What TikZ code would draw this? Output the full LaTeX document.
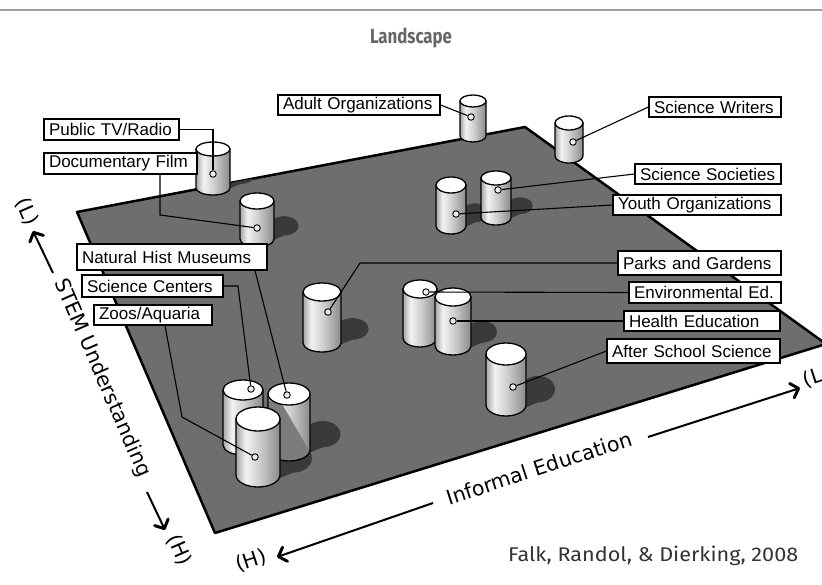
\documentclass[tikz,border=0pt]{standalone}
\usepackage{graphicx}
\usepackage{fontspec}
\setmainfont{Liberation Sans}
\newfontfamily\titlefont{Fira Sans}
\newfontfamily\axisfont{DejaVu Sans}
\usetikzlibrary{arrows.meta}
\definecolor{planec}{HTML}{6E6E6E}
\definecolor{shadowc}{HTML}{3A3A3A}
\definecolor{cylL}{HTML}{A6A6A6}
\definecolor{cylH}{HTML}{F2F2F2}
\definecolor{cylM}{HTML}{CDCDCD}
\definecolor{cylR}{HTML}{8A8A8A}
\definecolor{titlec}{HTML}{666666}
\definecolor{creditc}{HTML}{333333}
\definecolor{cyldark}{HTML}{7C7C7C}
\pgfdeclarehorizontalshading{cylshade}{100bp}{color(0bp)=(cylL); color(25bp)=(cylL); color(36bp)=(cylH); color(52bp)=(cylM); color(75bp)=(cylR); color(100bp)=(cylR)}
\tikzset{
  lab/.style={draw=black, fill=white, line width=1.2pt, inner xsep=5pt, inner ysep=0pt, align=left, font=\fontsize{17}{19}\selectfont},
  conn/.style={draw=black, line width=1.1pt},
  pindot/.style={circle, draw=black, fill=white!85!gray, line width=0.9pt, minimum size=6.5pt, inner sep=0pt},
  axisline/.style={draw=black, line width=2pt, -{Straight Barb[length=7pt,width=15pt,line width=3pt,round]}},
  axislab/.style={font=\axisfont\fontsize{20.5}{22}\selectfont, inner sep=0pt, text=black},
  cylside/.style={shading=cylshade, draw=black, line width=1.3pt},
  cyltop/.style={fill=white, draw=black, line width=1.3pt}
}
\newcommand\cyl[5]{%
  \shadedraw[cylside] (#1-#4,#2) -- (#1-#4,#3) arc[start angle=180,end angle=0,x radius=#4,y radius=#5] -- (#1+#4,#2) -- cycle;
  \filldraw[cyltop] (#1,#2) ellipse [x radius=#4, y radius=#5];
}
\newcommand\cylshadow[4]{%
  \pgfmathsetmacro\sdx{#1+1.6*#3}\pgfmathsetmacro\sdy{#2-0.9*#4-6}%
  \pgfmathsetmacro\srx{0.85*#3}\pgfmathsetmacro\sry{1.2*#4}%
  \fill[shadowc] (#1,#2) ellipse [x radius=#3, y radius=#4];
  \fill[shadowc] (\sdx,\sdy) ellipse [x radius=\srx, y radius=\sry];
  \fill[shadowc] (#1,#2+#4) -- (\sdx,\sdy+\sry) -- (\sdx,\sdy-\sry) -- (#1,#2-#4) -- cycle;
}
\begin{document}
\begin{tikzpicture}[x=1pt,y=-1pt]
\useasboundingbox (0,0) rectangle (822,584);
\clip (0,0) rectangle (822,584);
\fill[white] (0,0) rectangle (822,584);
% top rule
\draw[gray!75, line width=2pt] (0,10) -- (822,10);
% title
\node[anchor=base, text=titlec, inner sep=0pt] (title) at (411,43.3) {\resizebox{82pt}{15.5pt}{\titlefont\bfseries Landscape}};
% plane
\filldraw[fill=planec, draw=black, line width=2.5pt, line join=round] (77,212) -- (525,127) -- (826,344) -- (215,533) -- cycle;
% shadows
\begin{scope}
\clip (77,212) -- (525,127) -- (826,344) -- (215,533) -- cycle;
\cylshadow{473}{136}{13}{6}
\cylshadow{569}{156}{14}{7}
\cylshadow{213}{188}{17}{7}
\cylshadow{496}{218}{15}{7}
\cylshadow{451}{226}{15}{8}
\cylshadow{257}{239}{17}{8}
\cylshadow{420}{338}{17}{9}
\cylshadow{322}{343}{19}{9}
\cylshadow{453}{346}{18}{9}
\cylshadow{506}{405}{20}{11}
\cylshadow{243}{445}{20}{10}
\cylshadow{289}{450}{21}{11}
\cylshadow{258}{475}{22}{12}
\end{scope}
% cylinders, back to front
\cyl{473}{101}{136}{13}{6}
\cyl{569}{123}{156}{14}{7}
\cyl{213}{149}{188}{17}{7}
\cyl{496}{178}{218}{15}{7}
\cyl{451}{185}{226}{15}{8}
\cyl{257}{201}{239}{17}{8}
\cyl{420}{289}{338}{17}{9}
\cyl{322}{292}{343}{19}{9}
\cyl{453}{297}{346}{18}{9}
\cyl{506}{354}{405}{20}{11}
\cyl{243}{390}{445}{20}{10}
% natural history cylinder with cast shadow
\shade[shading=cylshade] (268,394) -- (268,450) arc[start angle=180,end angle=0,x radius=21,y radius=11] -- (310,394) -- cycle;
\begin{scope}
\clip (268,394) -- (268,450) arc[start angle=180,end angle=0,x radius=21,y radius=11] -- (310,394) -- cycle;
\fill[cyldark] (266,400) -- (282,404) -- (310,452) -- (300,470) -- (266,470) -- cycle;
\end{scope}
\draw[draw=black, line width=1.3pt] (268,394) -- (268,450) arc[start angle=180,end angle=0,x radius=21,y radius=11] -- (310,394);
\filldraw[cyltop] (289,394) ellipse [x radius=21, y radius=11];
\cyl{258}{419}{475}{22}{12}
% pins
\node[pindot] (p1) at (213,174) {};
\node[pindot] (p2) at (257,228) {};
\node[pindot] (p3) at (471,117) {};
\node[pindot] (p4) at (573,142) {};
\node[pindot] (p5) at (498,190) {};
\node[pindot] (p6) at (456,214) {};
\node[pindot] (p7) at (328,312) {};
\node[pindot] (p8) at (426,292) {};
\node[pindot] (p9) at (453,321) {};
\node[pindot] (p10) at (513,387) {};
\node[pindot] (p11) at (251,389) {};
\node[pindot] (p12) at (287,395) {};
\node[pindot] (p13) at (255,457) {};
% labels
\node[lab, text width=125pt, minimum height=21pt] (pubtv) at (111.5,129.5) {Public TV/Radio};
\node[lab, text width=143pt, minimum height=21pt] (doc) at (120.5,163.5) {Documentary Film};
\node[lab, text width=180pt, minimum height=26pt] (nat) at (172,257) {Natural Hist Museums};
\node[lab, text width=131pt, minimum height=22pt] (sci) at (152.5,286) {Science Centers};
\node[lab, text width=108pt, minimum height=20pt] (zoos) at (153,315) {Zoos/Aquaria};
\node[lab, text width=152pt, minimum height=20pt] (adult) at (359,105) {Adult Organizations};
\node[lab, text width=122pt, minimum height=20pt] (writers) at (715,107) {Science Writers};
\node[lab, text width=136pt, minimum height=20pt] (soc) at (708,174) {Science Societies};
\node[lab, text width=158pt, minimum height=20pt] (youth) at (697,205) {Youth Organizations};
\node[lab, text width=153pt, minimum height=24pt] (parks) at (699.5,263) {Parks and Gardens};
\node[lab, text width=142pt, minimum height=21pt] (env) at (705,292.5) {Environmental Ed.};
\node[lab, text width=146pt, minimum height=20pt] (health) at (702,321) {Health Education};
\node[lab, text width=163pt, minimum height=24pt] (after) at (693.5,351) {After School Science};
% connectors
\coordinate (d1) at (160,215);
\coordinate (n1) at (255,300);
\coordinate (s1) at (238,300);
\coordinate (z1) at (165,330);
\coordinate (z2) at (182,417);
\coordinate (k1) at (360,263);
\draw[conn] (pubtv.east) -| (p1);
\draw[conn] (d1 |- doc.south) -- (d1) -- (p2);
\draw[conn] (n1 |- nat.south) -- (p12);
\draw[conn] (sci.east) -- (sci.east -| s1) -- (p11);
\draw[conn] (z1 |- zoos.south) -- (z2) -- (p13);
\draw[conn] (adult.east) -- (p3);
\draw[conn] (p4) -- (writers.west);
\draw[conn] (p5) -- (soc.west);
\draw[conn] (p6) -- (youth.west);
\draw[conn] (p7) -- (k1 |- parks.west) -- (parks.west);
\draw[conn] (p8) -- (env.west);
\draw[conn] (p9) -- (health.west);
\draw[conn] (p10) -- (after.west);
% axes
\coordinate (sA) at (33,231);
\coordinate (sB) at (53,273);
\coordinate (sC) at (147,492);
\coordinate (sD) at (165,530);
\coordinate (iA) at (277,557);
\coordinate (iB) at (433,503);
\coordinate (iC) at (648,437);
\coordinate (iD) at (800,388);
\draw[axisline] (sB) -- (sA);
\draw[axisline] (sC) -- (sD);
\draw[axisline] (iB) -- (iA);
\draw[axisline] (iC) -- (iD);
\node[axislab, rotate=-66.5] (stem) at (102,378) {STEM Understanding};
\node[axislab, rotate=-66.5] (sL) at (27,212) {(L)};
\node[axislab, rotate=-66.5] (sH) at (179,550) {(H)};
\node[axislab, rotate=18] (inf) at (539,468) {Informal Education};
\node[axislab, rotate=18] (iH) at (251,561) {(H)};
\node[axislab, rotate=18] (iL) at (813,378) {(L};
% credit
\node[anchor=base west, text=creditc, inner sep=0pt] (credit) at (508,561.7) {\resizebox{290pt}{15.5pt}{\titlefont Falk, Randol, \& Dierking, 2008}};
\end{tikzpicture}
\end{document}
